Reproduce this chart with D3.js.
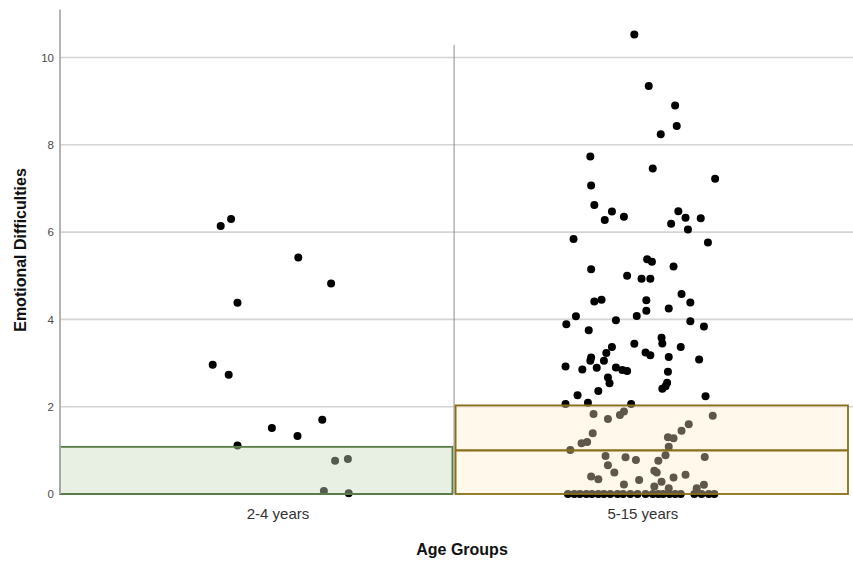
<!DOCTYPE html>
<html>
<head>
<meta charset="utf-8">
<script src="https://cdn.jsdelivr.net/npm/d3@7"></script>
<style>
  body { margin: 0; background: #fff; }
  text { font-family: "Liberation Sans", Arial, sans-serif; }
</style>
</head>
<body>
<svg id="chart" width="853" height="566"></svg>
<script>
// Categories and axis ticks
const groups = ["2-4 years", "5-15 years"];
const yTicks = [0, 2, 4, 6, 8, 10];

// Reference range per group: lower edge, middle line, upper edge
const rangeLow = [0, 0];
const rangeMid = [0, 1.0];
const rangeHigh = [1.08, 2.03];

// Individual scores, with horizontal jitter (-1 .. 1) for each point
const youngScores = [6.14, 6.30, 5.42, 4.82, 4.38, 2.96, 2.73, 1.70, 1.51, 1.33, 1.11, 0.76, 0.80, 0.07, 0.02];
const youngJitter = [-0.71, -0.58, 0.26, 0.67, -0.50, -0.81, -0.61, 0.56, -0.07, 0.25, -0.50, 0.72, 0.88, 0.58, 0.89];

const olderScores = [
  10.53, 9.35, 8.90, 8.43, 8.24, 7.73, 7.46, 7.22, 7.07, 6.62,
  6.47, 6.28, 6.35, 6.48, 6.33, 6.32, 6.19, 6.06, 5.84, 5.76,
  5.38, 5.32, 5.15, 5.21, 5.00, 4.93, 4.93, 4.58, 4.39, 4.41,
  4.45, 4.44, 4.20, 4.25, 4.07, 3.89, 3.98, 4.08, 3.96, 3.84,
  3.75, 3.58, 3.45, 3.44, 3.37, 3.37, 3.23, 3.24, 3.18, 3.14,
  3.13, 3.05, 3.05, 3.08, 2.92, 2.85, 2.89, 2.90, 2.84, 2.82,
  2.80, 2.67, 2.54, 2.55, 2.47, 2.41, 2.36, 2.26, 2.24, 2.06,
  2.09, 2.06, 1.83, 1.72, 1.81, 1.89, 1.79, 1.60, 1.45, 1.39,
  1.30, 1.28, 1.19, 1.16, 1.08, 1.01, 0.87, 0.84, 0.78, 0.89,
  0.85, 0.76, 0.66, 0.49, 0.53, 0.49, 0.40, 0.34, 0.38, 0.44,
  0.32, 0.22, 0.28, 0.17, 0.21, 0.13, 0.13,
  0, 0, 0, 0, 0, 0, 0, 0, 0, 0, 0, 0, 0, 0, 0, 0, 0, 0, 0, 0, 0, 0, 0
];
const olderJitter = [
  -0.10, 0.08, 0.41, 0.43, 0.23, -0.65, 0.13, 0.91, -0.64, -0.60,
  -0.38, -0.47, -0.23, 0.45, 0.54, 0.73, 0.36, 0.57, -0.86, 0.82,
  0.06, 0.12, -0.64, 0.39, -0.19, -0.01, 0.10, 0.49, 0.60, -0.60,
  -0.51, 0.05, 0.05, 0.33, -0.83, -0.95, -0.33, -0.07, 0.60, 0.77,
  -0.67, 0.24, 0.25, -0.10, 0.48, -0.38, -0.45, 0.04, 0.10, 0.33,
  -0.64, -0.65, -0.48, 0.71, -0.96, -0.75, -0.57, -0.33, -0.25, -0.19,
  0.32, -0.43, -0.41, 0.31, 0.29, 0.25, -0.55, -0.81, 0.79, -0.96,
  -0.68, -0.14, -0.61, -0.43, -0.28, -0.23, 0.88, 0.58, 0.49, -0.62,
  0.32, 0.39, -0.69, -0.76, 0.33, -0.90, -0.46, -0.21, -0.08, 0.29,
  0.78, 0.20, -0.43, -0.35, 0.15, 0.18, -0.64, -0.55, 0.39, 0.54,
  -0.04, -0.23, 0.24, 0.15, 0.77, 0.68, 0.33,
  -0.93, -0.85, -0.78, -0.70, -0.63, -0.55, -0.48, -0.40, -0.31, -0.24, -0.15, -0.06,
  0.04, 0.13, 0.20, 0.26, 0.34, 0.41, 0.48, 0.65, 0.74, 0.83, 0.90
];

const rangeFill = ["#c8dcbc", "#ffecc9"];
const rangeOpacity = [0.42, 0.37];
const rangeStroke = ["#5b7b49", "#8a6e18"];

const points = [
  ...youngScores.map((v, i) => ({ group: groups[0], value: v, jitter: youngJitter[i] })),
  ...olderScores.map((v, i) => ({ group: groups[1], value: v, jitter: olderJitter[i] }))
];
const ranges = groups.map((g, i) => ({
  group: g, low: rangeLow[i], mid: rangeMid[i], high: rangeHigh[i],
  fill: rangeFill[i], opacity: rangeOpacity[i], stroke: rangeStroke[i]
}));

const W = 853, H = 566;
const plot = { left: 60, right: 848, top: 9.5, bottom: 494 };

const svg = d3.select("#chart");

const y = d3.scaleLinear().domain([0, 11.1]).range([plot.bottom, plot.top]);
// Columns holding the reference ranges
const band = d3.scaleBand().domain(groups).range([plot.left, plot.right])
  .paddingInner(0.008).paddingOuter(0);
// Category centres used for the point clouds and the category labels
const centre = d3.scalePoint().domain(groups)
  .range([plot.left + 0.276 * (plot.right - plot.left), plot.left + 0.739 * (plot.right - plot.left)]);
const spread = d3.scaleLinear().domain([-1, 1]).range([-80, 80]);

// Horizontal gridlines
svg.append("g")
  .selectAll("line")
  .data(yTicks.filter(t => t > 0))
  .join("line")
  .attr("x1", plot.left).attr("x2", W)
  .attr("y1", d => y(d)).attr("y2", d => y(d))
  .attr("stroke", "#d4d4d4").attr("stroke-width", 1.6);

// Divider between the two columns
const divX = band(groups[1]) - 1.5;
svg.append("line")
  .attr("x1", divX).attr("x2", divX)
  .attr("y1", 45).attr("y2", plot.bottom)
  .attr("stroke", "#8c8c8c").attr("stroke-width", 1);

// Points
svg.append("g")
  .selectAll("circle")
  .data(points)
  .join("circle")
  .attr("cx", d => centre(d.group) + spread(d.jitter))
  .attr("cy", d => y(d.value))
  .attr("r", 4)
  .attr("fill", "#000");

// Translucent reference ranges drawn over the points
const rg = svg.append("g");
rg.selectAll("rect.fill")
  .data(ranges)
  .join("rect")
  .attr("class", "fill")
  .attr("x", d => band(d.group))
  .attr("width", band.bandwidth())
  .attr("y", d => y(d.high))
  .attr("height", d => y(d.low) - y(d.high))
  .attr("fill", d => d.fill)
  .attr("fill-opacity", d => d.opacity);
rg.selectAll("rect.edge")
  .data(ranges)
  .join("rect")
  .attr("class", "edge")
  .attr("x", d => band(d.group))
  .attr("width", band.bandwidth())
  .attr("y", d => y(d.high))
  .attr("height", d => y(d.low) - y(d.high))
  .attr("fill", "none")
  .attr("stroke", d => d.stroke)
  .attr("stroke-width", 1.8);
rg.selectAll("line.mid")
  .data(ranges)
  .join("line")
  .attr("class", "mid")
  .attr("x1", d => band(d.group))
  .attr("x2", d => band(d.group) + band.bandwidth())
  .attr("y1", d => y(d.mid)).attr("y2", d => y(d.mid))
  .attr("stroke", d => d.stroke)
  .attr("stroke-width", 2.2);

// Y axis
const yAxis = d3.axisLeft(y).tickValues(yTicks).tickSize(0).tickPadding(6);
const ya = svg.append("g").attr("transform", `translate(${plot.left},0)`).call(yAxis);
ya.select(".domain").remove();
ya.selectAll("text").attr("font-size", 11.5).attr("fill", "#4a4a4a")
  .style("font-family", "'Liberation Sans', Arial, sans-serif");
svg.append("line")
  .attr("x1", plot.left).attr("x2", plot.left)
  .attr("y1", y(11.1)).attr("y2", plot.bottom)
  .attr("stroke", "#ababab").attr("stroke-width", 1.8);

// X axis labels
const xAxis = d3.axisBottom(centre).tickSize(0).tickPadding(14);
const xa = svg.append("g").attr("transform", `translate(0,${plot.bottom})`).call(xAxis);
xa.select(".domain").remove();
xa.selectAll("text").attr("font-size", 15).attr("fill", "#333")
  .style("font-family", "'Liberation Sans', Arial, sans-serif");

// Axis titles
svg.append("text")
  .attr("transform", "translate(26,250) rotate(-90)")
  .attr("text-anchor", "middle")
  .attr("font-size", 16).attr("font-weight", "bold").attr("fill", "#111")
  .text("Emotional Difficulties");
svg.append("text")
  .attr("x", 462).attr("y", 555)
  .attr("text-anchor", "middle")
  .attr("font-size", 16).attr("font-weight", "bold").attr("fill", "#111")
  .text("Age Groups");
</script>
</body>
</html>
